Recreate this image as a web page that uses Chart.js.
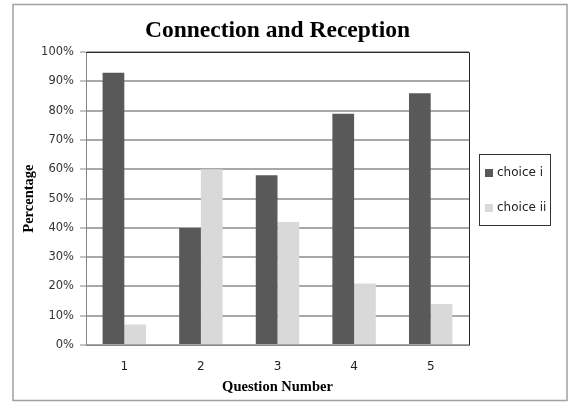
<!DOCTYPE html>
<html lang="en">
<head>
  <meta charset="UTF-8">
  <title>Connection and Reception</title>
  <script src="https://cdn.jsdelivr.net/npm/chart.js"></script>
  <style>
    body {
      margin: 0;
      background: white;
    }
    #wrap {
      position: relative;
      width: 569px;
      height: 403px;
    }
  </style>
</head>
<body>
  <div id="wrap">
    <canvas id="chart" width="569" height="403"></canvas>
  </div>

  <script>
    const questions = ['1', '2', '3', '4', '5'];
    const choiceI = [93, 40, 58, 79, 86];
    const choiceII = [7, 60, 42, 21, 14];
    const seriesNames = ['choice i', 'choice ii'];
    const seriesColors = ['#595959', '#d9d9d9'];

    // outer frame, top/right plot border and the boxed legend
    const frame = {
      id: 'frame',
      afterDraw(chart) {
        const ctx = chart.ctx;
        const a = chart.chartArea;
        ctx.save();
        ctx.strokeStyle = '#a0a0a0';
        ctx.lineWidth = 1.5;
        ctx.strokeRect(13, 4.5, 554, 396);

        ctx.strokeStyle = '#2a2a2a';
        ctx.lineWidth = 1;
        ctx.beginPath();
        ctx.moveTo(a.left, Math.round(a.top) + 0.5);
        ctx.lineTo(Math.round(a.right) + 0.5, Math.round(a.top) + 0.5);
        ctx.lineTo(Math.round(a.right) + 0.5, a.bottom);
        ctx.stroke();

        ctx.strokeStyle = '#333';
        ctx.strokeRect(479.5, 154.5, 71, 71);
        ctx.font = '12px "DejaVu Sans"';
        ctx.textBaseline = 'middle';
        chart.data.datasets.forEach((ds, i) => {
          const y = 173 + i * 35;
          ctx.fillStyle = ds.backgroundColor;
          ctx.fillRect(485, y - 4, 8, 8);
          ctx.fillStyle = '#222';
          ctx.fillText(ds.label, 497, y);
        });
        ctx.restore();
      }
    };

    new Chart(document.getElementById('chart'), {
      type: 'bar',
      data: {
        labels: questions,
        datasets: [
          { label: seriesNames[0], data: choiceI, backgroundColor: seriesColors[0] },
          { label: seriesNames[1], data: choiceII, backgroundColor: seriesColors[1] }
        ]
      },
      options: {
        responsive: false,
        animation: false,
        categoryPercentage: 0.567,
        barPercentage: 1.0,
        layout: { padding: { left: 13, right: 100, top: 4, bottom: 5 } },
        plugins: {
          legend: { display: false },
          tooltip: { enabled: false },
          title: {
            display: true,
            text: 'Connection and Reception',
            fullSize: false,
            color: '#000',
            font: { family: '"Liberation Serif"', size: 23.5, weight: 'bold' },
            padding: { top: 13, bottom: 7 }
          }
        },
        scales: {
          x: {
            afterFit(s) { s.height = 53; },
            grid: { display: false, drawTicks: false },
            border: { color: '#888', width: 1 },
            ticks: {
              padding: 15,
              color: '#222',
              font: { family: '"DejaVu Sans"', size: 12 }
            },
            title: {
              display: true,
              text: 'Question Number',
              color: '#000',
              font: { family: '"Liberation Serif"', size: 14.5, weight: 'bold' },
              padding: { top: 0, bottom: 2 }
            }
          },
          y: {
            min: 0,
            max: 100,
            afterFit(s) { s.width = 73; },
            grid: { color: '#a8a8a8', lineWidth: 2, tickColor: '#888', tickWidth: 1, tickLength: 6 },
            border: { color: '#888', width: 1 },
            ticks: {
              stepSize: 10,
              padding: 6,
              color: '#333',
              font: { family: '"DejaVu Sans"', size: 11.5 },
              callback: v => v + '%'
            },
            title: {
              display: true,
              text: 'Percentage',
              color: '#000',
              font: { family: '"Liberation Serif"', size: 14.5, weight: 'bold' },
              padding: { top: 8, bottom: 0 }
            }
          }
        }
      },
      plugins: [frame]
    });
  </script>
</body>
</html>
